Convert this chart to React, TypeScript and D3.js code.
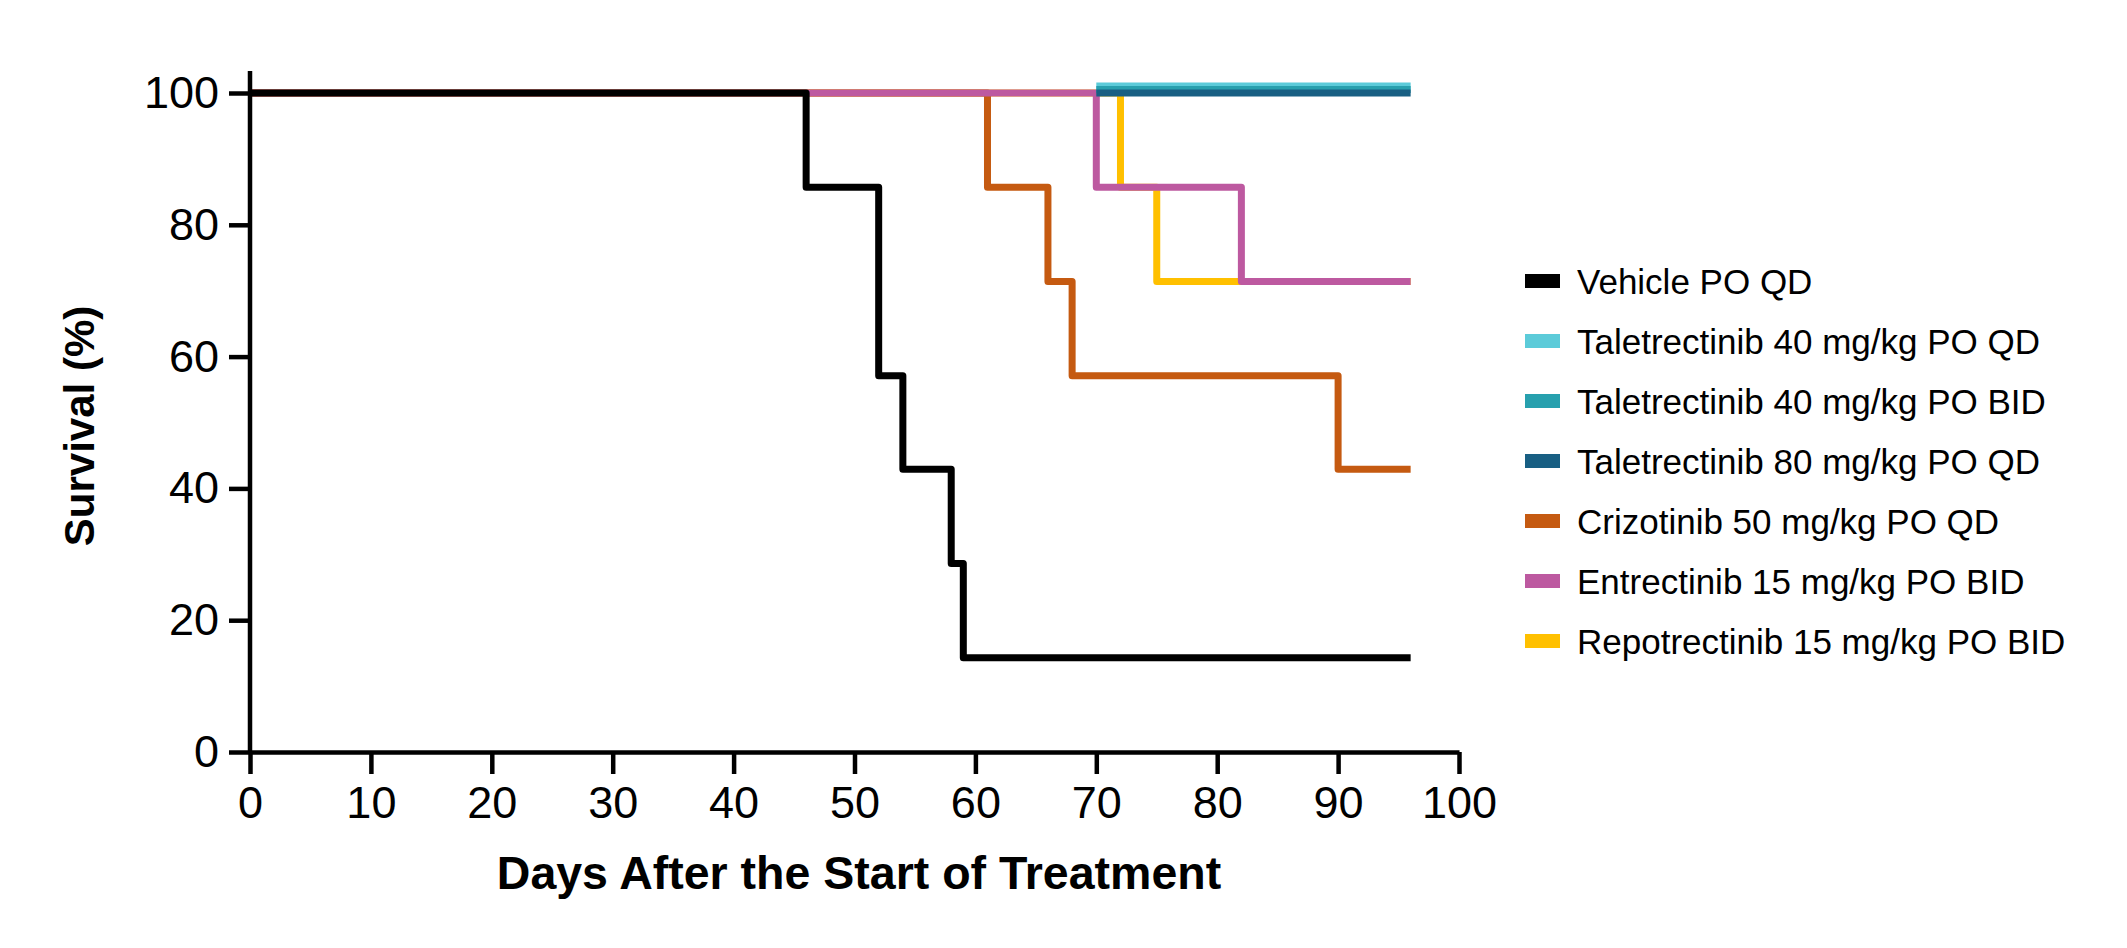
import { useEffect, useRef } from "react";
import * as d3 from "d3";

// survival curves (Kaplan-Meier steps), days vs % survival
const vehicleDays = [0, 46, 52, 54, 58, 59, 96];
const vehicleSurv = [100, 85.7, 57.1, 42.9, 28.6, 14.3, 14.3];

const tale40qdDays = [70, 96];
const tale40qdSurv = [100, 100];
const tale40bidDays = [70, 96];
const tale40bidSurv = [100, 100];
const tale80qdDays = [70, 96];
const tale80qdSurv = [100, 100];

const crizoDays = [0, 61, 66, 68, 90, 96];
const crizoSurv = [100, 85.7, 71.4, 57.1, 42.9, 42.9];

const entreDays = [0, 70, 82, 96];
const entreSurv = [100, 85.7, 71.4, 71.4];

const repoDays = [0, 72, 75, 96];
const repoSurv = [100, 85.7, 71.4, 71.4];

const xTicks = [0, 10, 20, 30, 40, 50, 60, 70, 80, 90, 100];
const yTicks = [0, 20, 40, 60, 80, 100];

const seriesNames = [
  "Vehicle PO QD",
  "Taletrectinib 40 mg/kg PO QD",
  "Taletrectinib 40 mg/kg PO BID",
  "Taletrectinib 80 mg/kg PO QD",
  "Crizotinib 50 mg/kg PO QD",
  "Entrectinib 15 mg/kg PO BID",
  "Repotrectinib 15 mg/kg PO BID",
];
const seriesColors = ["#000000", "#5ccbd9", "#27a0ae", "#185f83", "#c55a11", "#bd59a0", "#ffc000"];

const W = 2127;
const H = 948;
const FONT = "'Liberation Sans', Arial, Helvetica, sans-serif";

export default function App() {
  const svgRef = useRef<SVGSVGElement>(null);

  useEffect(() => {
    const svg = d3.select(svgRef.current);
    svg.selectAll("*").remove();

    const x = d3.scaleLinear().domain([0, 100]).range([250, 1459]);
    const y = d3.scaleLinear().domain([0, 100]).range([752, 93]);

    const series = [
      { days: vehicleDays, surv: vehicleSurv },
      { days: tale40qdDays, surv: tale40qdSurv },
      { days: tale40bidDays, surv: tale40bidSurv },
      { days: tale80qdDays, surv: tale80qdSurv },
      { days: crizoDays, surv: crizoSurv },
      { days: entreDays, surv: entreSurv },
      { days: repoDays, surv: repoSurv },
    ].map((s, i) => ({
      name: seriesNames[i],
      color: seriesColors[i],
      pts: s.days.map((d, j) => [d, s.surv[j]] as [number, number]),
    }));

    // small vertical offsets so the overlapping 100% lines show side by side
    const offsets = [0, -7, -3.5, 0, 0, 0, 0];
    // drawing order: repotrectinib, crizotinib, entrectinib, vehicle, taletrectinib lines
    const order = [6, 4, 5, 0, 1, 2, 3];

    const line = d3
      .line<[number, number]>()
      .x((d) => x(d[0]))
      .y((d) => y(d[1]))
      .curve(d3.curveStepAfter);

    const curves = svg.append("g");
    order.forEach((i) => {
      curves
        .append("path")
        .attr("d", line(series[i].pts)!)
        .attr("transform", `translate(0,${offsets[i]})`)
        .attr("fill", "none")
        .attr("stroke", series[i].color)
        .attr("stroke-width", 7)
        .attr("stroke-linejoin", "round");
    });

    // x axis
    const xAxis = d3
      .axisBottom(x)
      .tickValues(xTicks)
      .tickSize(22)
      .tickSizeOuter(0)
      .tickPadding(12)
      .tickFormat((d) => String(d));
    const gx = svg.append("g").attr("transform", `translate(0,752)`).call(xAxis);
    gx.select(".domain").attr("stroke-width", 4.5);
    gx.selectAll(".tick line").attr("stroke-width", 4.5);
    gx.selectAll("text").attr("font-size", 45).attr("font-family", FONT).attr("fill", "#000");

    // y axis
    const yAxis = d3
      .axisLeft(y)
      .tickValues(yTicks)
      .tickSize(21)
      .tickSizeOuter(0)
      .tickPadding(10)
      .tickFormat((d) => String(d));
    const gy = svg.append("g").attr("transform", `translate(250,0)`).call(yAxis);
    gy.select(".domain").remove();
    gy.append("line")
      .attr("x1", 0)
      .attr("x2", 0)
      .attr("y1", 71)
      .attr("y2", 754)
      .attr("stroke", "#000")
      .attr("stroke-width", 4.5);
    gy.selectAll(".tick line").attr("stroke-width", 4.5);
    gy.selectAll("text").attr("font-size", 45).attr("font-family", FONT).attr("fill", "#000");

    // axis titles
    svg
      .append("text")
      .attr("x", 859)
      .attr("y", 889)
      .attr("text-anchor", "middle")
      .attr("font-family", FONT)
      .attr("font-weight", "bold")
      .attr("font-size", 46.5)
      .text("Days After the Start of Treatment");

    svg
      .append("text")
      .attr("transform", `translate(94,426) rotate(-90)`)
      .attr("text-anchor", "middle")
      .attr("font-family", FONT)
      .attr("font-weight", "bold")
      .attr("font-size", 42)
      .text("Survival (%)");

    // legend
    const legend = svg.append("g").attr("transform", "translate(1525,281)");
    series.forEach((s, i) => {
      const g = legend.append("g").attr("transform", `translate(0,${i * 60})`);
      g.append("rect").attr("x", 0).attr("y", -7).attr("width", 35).attr("height", 14).attr("fill", s.color);
      g.append("text")
        .attr("x", 52)
        .attr("y", 0)
        .attr("dy", "0.36em")
        .attr("font-family", FONT)
        .attr("font-size", 35)
        .attr("fill", "#000")
        .text(s.name);
    });
  }, []);

  return (
    <svg
      ref={svgRef}
      width={W}
      height={H}
      style={{ position: "absolute", left: 0, top: 0, background: "#fff" }}
    />
  );
}
